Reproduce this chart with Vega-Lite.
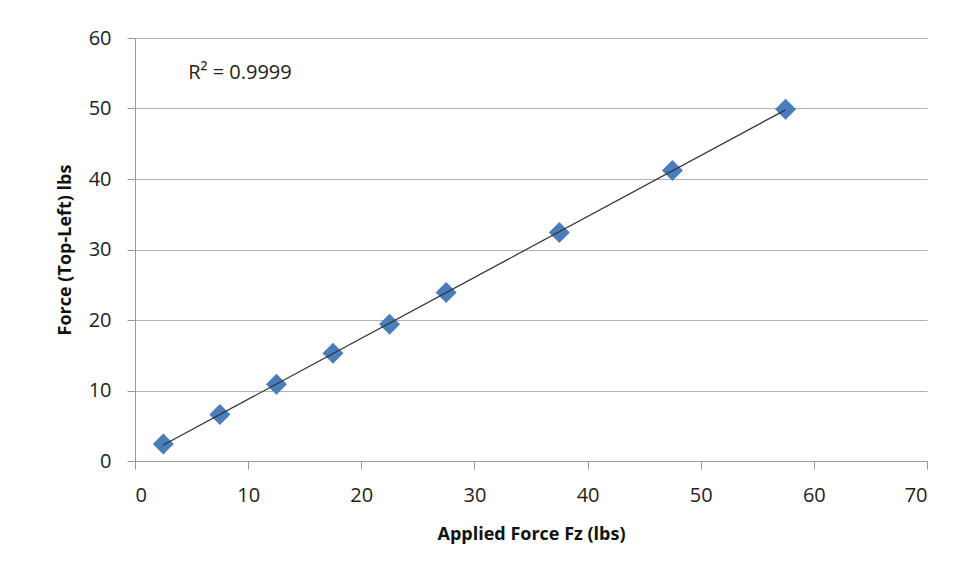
{
  "$schema": "https://vega.github.io/schema/vega-lite/v6.json",
  "width": 792,
  "height": 423,
  "autosize": {"type": "none"},
  "padding": {"left": 135, "top": 38, "right": 45, "bottom": 125},
  "background": "white",
  "config": {
    "view": {"stroke": null},
    "font": "Open Sans",
    "axis": {
      "labelFont": "Open Sans",
      "labelFontSize": 20,
      "labelColor": "#222",
      "titleFont": "Open Sans",
      "titleFontSize": 18,
      "titleFontWeight": "bold",
      "titleColor": "#111",
      "domainColor": "#9a9a9a",
      "tickColor": "#9a9a9a",
      "gridColor": "#b4b4b4",
      "tickSize": 8
    }
  },
  "datasets": {
    "pts": [
      {"fz": 2.5, "force": 2.4},
      {"fz": 7.5, "force": 6.6},
      {"fz": 12.5, "force": 10.9},
      {"fz": 17.5, "force": 15.3},
      {"fz": 22.5, "force": 19.4},
      {"fz": 27.5, "force": 23.9},
      {"fz": 37.5, "force": 32.4},
      {"fz": 47.5, "force": 41.2},
      {"fz": 57.5, "force": 49.9}
    ],
    "note": [{"fz": 4.7, "force": 55, "label": "R² = 0.9999"}]
  },
  "layer": [
    {
      "data": {"name": "pts"},
      "mark": {"type": "point", "shape": "diamond", "size": 441, "filled": true, "color": "#4a7ebb", "opacity": 1},
      "encoding": {
        "x": {"field": "fz", "type": "quantitative", "scale": {"domain": [0, 70]},
          "axis": {"title": "Applied Force Fz (lbs)", "values": [0,10,20,30,40,50,60,70], "grid": false, "labelPadding": 16, "titlePadding": 20}},
        "y": {"field": "force", "type": "quantitative", "scale": {"domain": [0, 60]},
          "axis": {"title": "Force (Top-Left) lbs", "values": [0,10,20,30,40,50,60], "grid": true, "labelPadding": 16, "titlePadding": 14}}
      }
    },
    {
      "data": {"name": "pts"},
      "transform": [{"regression": "force", "on": "fz"}],
      "mark": {"type": "line", "color": "#333333", "strokeWidth": 1.2},
      "encoding": {
        "x": {"field": "fz", "type": "quantitative"},
        "y": {"field": "force", "type": "quantitative"}
      }
    },
    {
      "data": {"name": "note"},
      "mark": {"type": "text", "align": "left", "baseline": "middle", "font": "Open Sans", "fontSize": 20, "color": "#222"},
      "encoding": {
        "x": {"field": "fz", "type": "quantitative"},
        "y": {"field": "force", "type": "quantitative"},
        "text": {"field": "label"}
      }
    }
  ]
}
